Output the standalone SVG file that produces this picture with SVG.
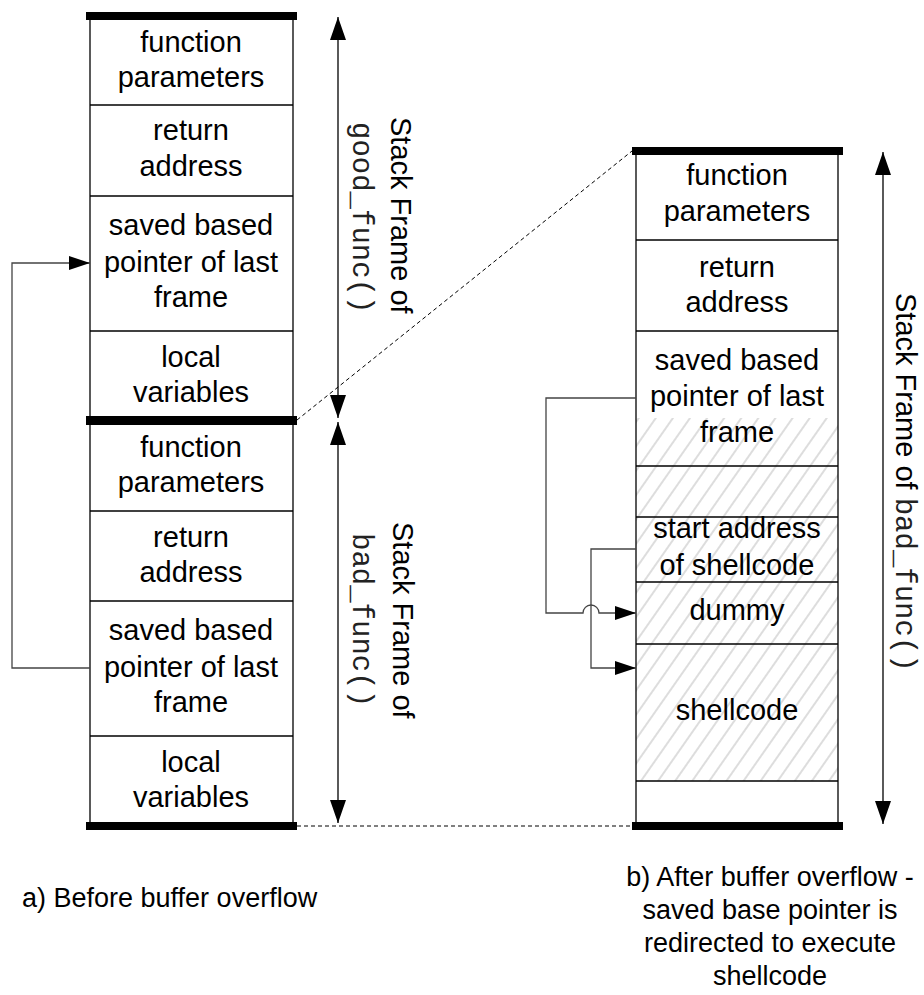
<svg xmlns="http://www.w3.org/2000/svg" width="924" height="995" viewBox="0 0 924 995">
<style>
text{font-family:"Liberation Sans",Arial,sans-serif;font-size:29px;fill:#000}
.c{text-anchor:middle}
.mono{font-family:"Liberation Mono","Courier New",monospace;fill:#222}
.cap{font-size:27px}
.box{stroke:#000;stroke-width:1.3;fill:none}
.bar{fill:#000}
.dim{stroke:#000;stroke-width:1.3;fill:none;marker-start:url(#big);marker-end:url(#big)}
.conn{stroke:#444;stroke-width:1.3;fill:none;marker-end:url(#small)}
.dash{stroke:#000;stroke-width:1;stroke-dasharray:4,3;fill:none}
</style>
<defs>
<marker id="big" viewBox="0 0 23 16" refX="23" refY="8" markerWidth="23" markerHeight="16" markerUnits="userSpaceOnUse" orient="auto-start-reverse"><path d="M0,0 L23,8 L0,16 z" fill="#000"/></marker>
<marker id="small" viewBox="0 0 21 14" refX="21" refY="7" markerWidth="21" markerHeight="14" markerUnits="userSpaceOnUse" orient="auto"><path d="M0,0 L21,7 L0,14 z" fill="#000"/></marker>
<pattern id="hatch" patternUnits="userSpaceOnUse" width="14" height="14" patternTransform="rotate(35)"><line x1="7" y1="0" x2="7" y2="14" stroke="#bbb" stroke-width="1"/></pattern>
</defs>
<rect width="924" height="995" fill="#fff"/>

<g id="left-good-frame">
<line class="box" x1="90" y1="16" x2="90" y2="420"/>
<line class="box" x1="293" y1="16" x2="293" y2="420"/>
<line class="box" x1="90" y1="105" x2="293" y2="105"/>
<line class="box" x1="90" y1="196" x2="293" y2="196"/>
<line class="box" x1="90" y1="331" x2="293" y2="331"/>
<rect class="bar" x="86" y="12" width="211" height="8"/>
<rect class="bar" x="86" y="416" width="211" height="9"/>
<text class="c" x="191" y="52">function</text>
<text class="c" x="191" y="87">parameters</text>
<text class="c" x="191" y="140">return</text>
<text class="c" x="191" y="176">address</text>
<text class="c" x="191" y="235">saved based</text>
<text class="c" x="191" y="272">pointer of last</text>
<text class="c" x="191" y="307">frame</text>
<text class="c" x="191" y="367">local</text>
<text class="c" x="191" y="402">variables</text>
</g>

<g id="left-bad-frame">
<line class="box" x1="90" y1="420" x2="90" y2="826"/>
<line class="box" x1="293" y1="420" x2="293" y2="826"/>
<line class="box" x1="90" y1="511" x2="293" y2="511"/>
<line class="box" x1="90" y1="601" x2="293" y2="601"/>
<line class="box" x1="90" y1="736" x2="293" y2="736"/>
<rect class="bar" x="86" y="822" width="211" height="8"/>
<text class="c" x="191" y="457">function</text>
<text class="c" x="191" y="492">parameters</text>
<text class="c" x="191" y="547">return</text>
<text class="c" x="191" y="582">address</text>
<text class="c" x="191" y="640">saved based</text>
<text class="c" x="191" y="677">pointer of last</text>
<text class="c" x="191" y="712">frame</text>
<text class="c" x="191" y="772">local</text>
<text class="c" x="191" y="807">variables</text>
</g>

<g id="right-frame">
<rect x="636" y="418" width="202" height="363" fill="url(#hatch)"/>
<line class="box" x1="636" y1="151" x2="636" y2="826"/>
<line class="box" x1="838" y1="151" x2="838" y2="826"/>
<line class="box" x1="636" y1="240" x2="838" y2="240"/>
<line class="box" x1="636" y1="331" x2="838" y2="331"/>
<line class="box" x1="636" y1="466" x2="838" y2="466"/>
<line class="box" x1="636" y1="517" x2="838" y2="517"/>
<line class="box" x1="636" y1="582" x2="838" y2="582"/>
<line class="box" x1="636" y1="644" x2="838" y2="644"/>
<line class="box" x1="636" y1="781" x2="838" y2="781"/>
<rect class="bar" x="632" y="147" width="211" height="8"/>
<rect class="bar" x="632" y="822" width="211" height="8"/>
<text class="c" x="737" y="185">function</text>
<text class="c" x="737" y="221">parameters</text>
<text class="c" x="737" y="277">return</text>
<text class="c" x="737" y="312">address</text>
<text class="c" x="737" y="370">saved based</text>
<text class="c" x="737" y="406">pointer of last</text>
<text class="c" x="737" y="442">frame</text>
<text class="c" x="737" y="538">start address</text>
<text class="c" x="737" y="575">of shellcode</text>
<text class="c" x="737" y="620">dummy</text>
<text class="c" x="737" y="720">shellcode</text>
</g>

<g id="frame-labels">
<text transform="translate(391,117) rotate(90)">Stack Frame of</text>
<text class="mono" transform="translate(353,122) rotate(90)">good_func()</text>
<text transform="translate(393,522) rotate(90)">Stack Frame of</text>
<text class="mono" transform="translate(353,533) rotate(90)">bad_func()</text>
<text transform="translate(896,293) rotate(90)">Stack Frame of <tspan class="mono">bad_func()</tspan></text>
</g>

<g id="connectors">
<line class="dim" x1="338" y1="17" x2="338" y2="418"/>
<line class="dim" x1="338" y1="422" x2="338" y2="823"/>
<line class="dim" x1="883" y1="152" x2="883" y2="824"/>
<path class="conn" d="M90,668 H12 V263 H90"/>
<path class="conn" d="M636,398 H546 V613 H583 A8,8 0 0 1 599,613 H636"/>
<path class="conn" d="M636,549 H591 V668 H636"/>
<path class="dash" d="M297,420 L632,151"/>
<path class="dash" d="M297,826 H632"/>
</g>

<g id="captions">
<text class="cap" x="22" y="907">a) Before buffer overflow</text>
<text class="cap c" x="770" y="886">b) After buffer overflow -</text>
<text class="cap c" x="770" y="919">saved base pointer is</text>
<text class="cap c" x="770" y="952">redirected to execute</text>
<text class="cap c" x="770" y="985">shellcode</text>
</g>
</svg>
